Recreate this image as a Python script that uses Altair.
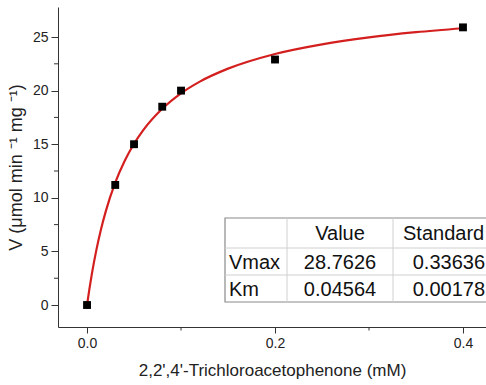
import altair as alt
import pandas as pd

# measured points
substrate = [0.0, 0.03, 0.05, 0.08, 0.10, 0.20, 0.40]
velocity = [0.0, 11.2, 15.0, 18.5, 20.0, 22.9, 25.9]

# fitted curve
curve_x = [0.0, 0.0025, 0.005, 0.01, 0.015, 0.02, 0.03, 0.04, 0.05, 0.06, 0.08,
           0.10, 0.12, 0.15, 0.20, 0.25, 0.30, 0.35, 0.40]
curve_y = [0.0, 1.49, 2.84, 5.17, 7.12, 8.76, 11.41, 13.43, 15.04, 16.34, 18.31,
           19.75, 20.84, 22.05, 23.42, 24.32, 24.97, 25.45, 25.82]

# axis ticks
y_major = [0, 5, 10, 15, 20, 25]
y_minor = [2.5, 7.5, 12.5, 17.5, 22.5]
x_major = [0.0, 0.2, 0.4]
x_minor = [0.1, 0.3]

# table
table_header = ["Value", "Standard"]
param_names = ["Vmax", "Km"]
param_values = ["28.7626", "0.04564"]
param_errors = ["0.33636", "0.00178"]

FONT = "Liberation Sans"
W, H = 428, 320
XD = [-0.0309, 0.4245]
YD = [-2.05, 27.8]

pts = pd.DataFrame({"x": substrate, "y": velocity})
crv = pd.DataFrame({"x": curve_x, "y": curve_y})

xs = alt.Scale(domain=XD, nice=False, zero=False)
ys = alt.Scale(domain=YD, nice=False, zero=False)

xaxis = alt.Axis(values=x_major, format=".1f", title="2,2',4'-Trichloroacetophenone (mM)",
                 grid=False, tickSize=6, tickColor="#333", domainColor="#333",
                 labelFont=FONT, labelFontSize=14, labelColor="#222", labelPadding=3,
                 titleFont=FONT, titleFontSize=17, titleFontWeight="normal", titleColor="#222",
                 titlePadding=12)
yaxis = alt.Axis(values=y_major, title="V (μmol min ⁻¹ mg ⁻¹)",
                 grid=False, tickSize=7, tickColor="#333", domainColor="#333",
                 labelFont=FONT, labelFontSize=14, labelColor="#222", labelPadding=3,
                 titleFont=FONT, titleFontSize=18, titleFontWeight="normal", titleColor="#222",
                 titlePadding=7)

line = alt.Chart(crv).mark_line(color="#d41f1f", strokeWidth=2.2, interpolate="monotone").encode(
    x=alt.X("x:Q", scale=xs, axis=xaxis), y=alt.Y("y:Q", scale=ys, axis=yaxis))
points = alt.Chart(pts).mark_square(color="black", size=62, opacity=1).encode(
    x=alt.X("x:Q", scale=xs), y=alt.Y("y:Q", scale=ys))

yminor = alt.Chart(pd.DataFrame({"v": y_minor})).mark_rule(color="#333").encode(
    y=alt.Y("v:Q", scale=ys), x=alt.value(-4), x2=alt.value(0))
xminor = alt.Chart(pd.DataFrame({"v": x_minor})).mark_rule(color="#333").encode(
    x=alt.X("v:Q", scale=xs), y=alt.value(H), y2=alt.value(H + 3.5))

# table geometry (pixels within plot area)
TL, TT, TR, TB = 167, 211, 440, 295
R1, R2 = 241, 268
C1, C2 = 229, 335

one = pd.DataFrame({"a": [0]})
layers = [line, points, yminor, xminor]
layers.append(alt.Chart(one).mark_rect(fill="white", stroke="#8a8a8a", strokeWidth=1.2).encode(
    x=alt.value(TL), x2=alt.value(TR), y=alt.value(TT), y2=alt.value(TB)))
for yy in (R1, R2):
    layers.append(alt.Chart(one).mark_rule(color="#d0d0d0", strokeWidth=1).encode(
        x=alt.value(TL), x2=alt.value(TR), y=alt.value(yy)))
for xx in (C1, C2):
    layers.append(alt.Chart(one).mark_rule(color="#d0d0d0", strokeWidth=1).encode(
        x=alt.value(xx), y=alt.value(TT), y2=alt.value(TB)))


def txt(s, x, y, align):
    return alt.Chart(pd.DataFrame({"t": [s]})).mark_text(
        font=FONT, fontSize=20, color="#111", align=align, baseline="middle").encode(
        text="t:N", x=alt.value(x), y=alt.value(y))


rows_y = [(R1 + R2) / 2 + 1, (R2 + TB) / 2 + 1]
layers.append(txt(table_header[0], (C1 + C2) / 2, (TT + R1) / 2 + 1, "center"))
layers.append(txt(table_header[1], C2 + 10, (TT + R1) / 2 + 1, "left"))
for i in range(2):
    layers.append(txt(param_names[i], TL + 4, rows_y[i], "left"))
    layers.append(txt(param_values[i], (C1 + C2) / 2, rows_y[i], "center"))
    layers.append(txt(param_errors[i], 427, rows_y[i], "right"))

chart = alt.layer(*layers).properties(
    width=W, height=H, autosize="none",
    padding={"left": 58, "top": 7, "right": 0, "bottom": 58},
    background="white",
).configure_view(stroke=None)

chart.save("out.html", embed_options={"renderer": "svg", "actions": False})
